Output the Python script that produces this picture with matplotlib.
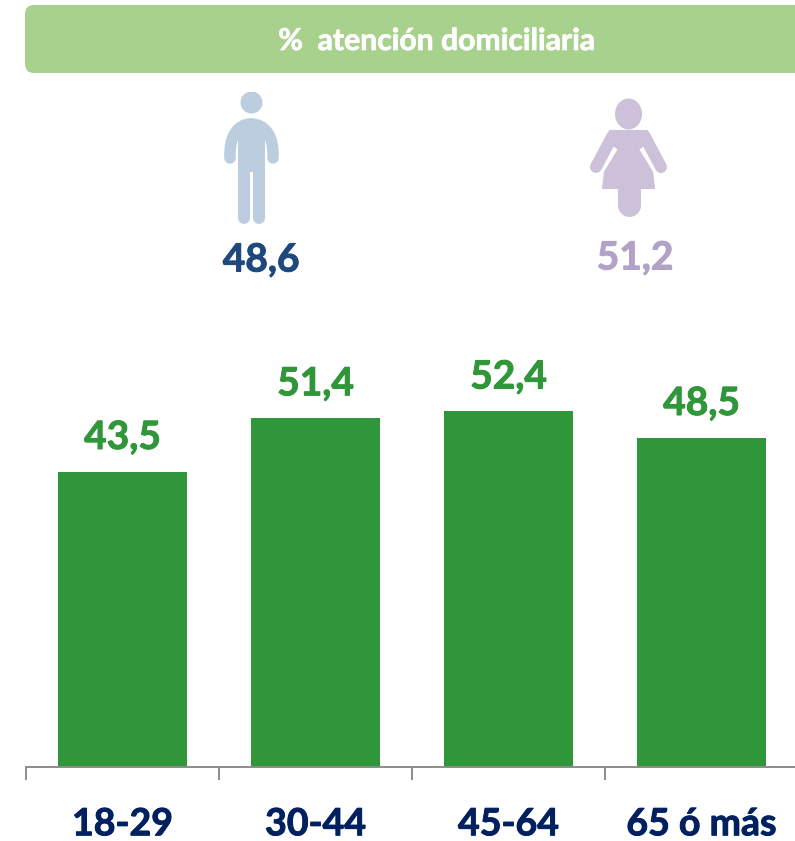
import numpy as np
import matplotlib
matplotlib.use("Agg")
import matplotlib.pyplot as plt
import matplotlib.patheffects as pe
from matplotlib.patches import FancyBboxPatch, Ellipse, PathPatch, Polygon
from matplotlib.path import Path

plt.rcParams['font.family'] = ['Lato', 'DejaVu Sans']

# data
age_groups = ["18-29", "30-44", "45-64", "65 ó más"]
age_values = [43.5, 51.4, 52.4, 48.5]
man_value = "48,6"
woman_value = "51,2"
title = "%  atención domiciliaria"

W, H = 795, 841
GREEN = "#2F9639"
NAVY = "#002060"
MAN = "#BDCDE0"
WOMAN = "#CCC1D9"


def heavy(color, w=0.7):
    # Lato bold is a bit lighter than the reference face
    return [pe.withStroke(linewidth=w, foreground=color)]


fig = plt.figure(figsize=(W / 100, H / 100), dpi=100, facecolor="white")

# bars
px_per_unit = 6.79
ax_h = 420
ax = fig.add_axes([26 / W, (H - 767) / H, 772 / W, ax_h / H])
x = np.arange(len(age_values))
bars = ax.bar(x, age_values, width=0.668, color=GREEN)
labels = ax.bar_label(bars, labels=[f"{v:.1f}".replace(".", ",") for v in age_values],
                      padding=12, color=GREEN, fontsize=28, fontweight="bold")
for t in labels:
    t.set_path_effects(heavy(GREEN))
ax.set_xlim(-0.5, 3.5)
ax.set_ylim(0, ax_h / px_per_unit)
ax.set_yticks([])
ax.set_xticks(np.arange(len(age_values) + 1) - 0.5)
ax.set_xticklabels([])
ax.set_xticks(x, minor=True)
ax.set_xticklabels(age_groups, minor=True, color=NAVY, fontsize=27, fontweight="bold")
for t in ax.get_xminorticklabels():
    t.set_path_effects(heavy(NAVY))
ax.tick_params(axis="x", which="major", length=9.5, width=1.4, color="#8C8C8C")
ax.tick_params(axis="x", which="minor", length=0, pad=29)
for s in ["top", "left", "right"]:
    ax.spines[s].set_visible(False)
ax.spines["bottom"].set_color("#8C8C8C")
ax.spines["bottom"].set_linewidth(1.4)
ax.patch.set_alpha(0)

# overlay in pixel coords for banner and icons
ov = fig.add_axes([0, 0, 1, 1])
ov.set_xlim(0, W)
ov.set_ylim(H, 0)
ov.axis("off")
ov.patch.set_alpha(0)

ov.add_patch(FancyBboxPatch((33, 13), 790, 52, boxstyle="round,pad=8,rounding_size=9",
                            fc="#A9D18E", ec="none"))
ov.text(437, 41, title, color="white", fontsize=21.7, fontweight="bold", ha="center", va="center",
        path_effects=heavy("white", 0.5))


def stroke(points, codes, color, width):
    ov.add_patch(PathPatch(Path(points, codes), fc="none", ec=color, lw=width * 0.72,
                           capstyle="round", joinstyle="round"))


# man
head = Ellipse((251.5, 102.5), 22, 22, fc=MAN, ec="none")
ov.add_patch(head)
head.set_clip_path(plt.Rectangle((200, 92), 100, 40, transform=ov.transData))
c4 = [Path.MOVETO, Path.CURVE4, Path.CURVE4, Path.CURVE4]
stroke([(230, 158), (229, 136), (238, 124), (251, 124)], c4, MAN, 11.5)
stroke([(273, 158), (274, 136), (265, 124), (251, 124)], c4, MAN, 11.5)
ov.add_patch(Polygon([(238, 122), (265, 122), (265, 172), (238, 172)], fc=MAN, ec="none"))
stroke([(244, 165), (244, 218)], [Path.MOVETO, Path.LINETO], MAN, 12)
stroke([(259, 165), (259, 218)], [Path.MOVETO, Path.LINETO], MAN, 12)
ov.text(261, 260, man_value, color="#1F497D", fontsize=28, fontweight="bold", ha="center", va="center",
        path_effects=heavy("#1F497D"))

# woman
ov.add_patch(Ellipse((628.5, 114), 27, 31, fc=WOMAN, ec="none"))
stroke([(612, 137), (596, 167)], [Path.MOVETO, Path.LINETO], WOMAN, 12)
stroke([(645, 137), (661, 167)], [Path.MOVETO, Path.LINETO], WOMAN, 12)
ov.add_patch(Polygon([(610, 131), (647, 131), (652, 140), (638, 149), (652, 172), (654, 188),
                     (603, 188), (605, 172), (619, 149), (605, 140)],
                     fc=WOMAN, ec=WOMAN, lw=1.5, joinstyle="round"))
stroke([(628.5, 185), (628.5, 205)], [Path.MOVETO, Path.LINETO], WOMAN, 23)
ov.text(635, 258, woman_value, color="#B3A2C7", fontsize=28, fontweight="bold", ha="center", va="center",
        path_effects=heavy("#B3A2C7"))

fig.savefig("out.png", dpi=100)
